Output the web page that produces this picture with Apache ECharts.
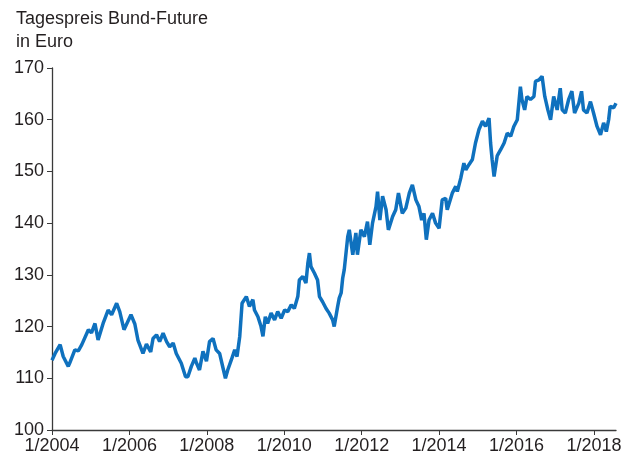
<!DOCTYPE html>
<html>
<head>
<meta charset="utf-8">
<script src="https://cdn.jsdelivr.net/npm/echarts@6/dist/echarts.min.js"></script>
<style>
  html, body { margin: 0; padding: 0; background: #fff; }
  #chart { width: 626px; height: 459px; }
</style>
</head>
<body>
<div id="chart"></div>
<script>
// Zeitpunkte als Dezimaljahr, Kurs in Euro
const years = [
  2004.00, 2004.08, 2004.21, 2004.29, 2004.42, 2004.46, 2004.59, 2004.68, 2004.77, 2004.94,
  2005.02, 2005.11, 2005.19, 2005.32, 2005.45, 2005.54, 2005.67, 2005.75, 2005.86, 2006.04,
  2006.14, 2006.22, 2006.35, 2006.44, 2006.55, 2006.61, 2006.70, 2006.78, 2006.87, 2006.96,
  2007.04, 2007.13, 2007.21, 2007.34, 2007.45, 2007.51, 2007.60, 2007.69, 2007.73, 2007.81,
  2007.90, 2007.99, 2008.07, 2008.16, 2008.24, 2008.33, 2008.43, 2008.48, 2008.54, 2008.63,
  2008.72, 2008.78, 2008.85, 2008.91, 2009.02, 2009.10, 2009.19, 2009.23, 2009.32, 2009.40,
  2009.45, 2009.51, 2009.57, 2009.66, 2009.75, 2009.83, 2009.92, 2010.01, 2010.09, 2010.18,
  2010.26, 2010.35, 2010.39, 2010.48, 2010.56, 2010.61, 2010.65, 2010.69, 2010.78, 2010.86,
  2010.91, 2010.99, 2011.08, 2011.16, 2011.25, 2011.29, 2011.38, 2011.42, 2011.47, 2011.51,
  2011.55, 2011.64, 2011.68, 2011.77, 2011.85, 2011.89, 2011.98, 2012.07, 2012.15, 2012.21,
  2012.28, 2012.37, 2012.41, 2012.47, 2012.54, 2012.63, 2012.69, 2012.80, 2012.88, 2012.95,
  2013.05, 2013.14, 2013.23, 2013.31, 2013.40, 2013.48, 2013.55, 2013.61, 2013.67, 2013.74,
  2013.83, 2013.91, 2014.00, 2014.08, 2014.17, 2014.21, 2014.34,
  2014.43, 2014.47, 2014.56, 2014.64, 2014.69, 2014.77, 2014.86, 2014.94, 2015.03, 2015.12,
  2015.20, 2015.29, 2015.33, 2015.37, 2015.42, 2015.50, 2015.59, 2015.68, 2015.76, 2015.85,
  2015.93, 2016.02, 2016.10, 2016.14, 2016.21, 2016.27, 2016.36, 2016.45, 2016.49,
  2016.58, 2016.66, 2016.73, 2016.81, 2016.88, 2016.96, 2017.05, 2017.13, 2017.18, 2017.26,
  2017.35, 2017.43, 2017.50, 2017.61, 2017.68, 2017.73, 2017.82, 2017.91, 2017.99, 2018.08,
  2018.17, 2018.25, 2018.32, 2018.38, 2018.42, 2018.51, 2018.57
];
const prices = [
  113.5, 114.8, 116.5, 114.2, 112.3, 113.0, 115.5, 115.3, 116.5, 119.4,
  118.8, 120.6, 117.4, 120.6, 123.2, 122.3, 124.5, 122.9, 119.4, 122.3,
  120.5, 117.4, 114.8, 116.6, 115.1, 117.7, 118.4, 117.1, 118.7, 117.1,
  116.1, 116.8, 114.8, 112.9, 110.3, 110.3, 112.3, 113.9, 113.0, 111.6,
  115.2, 113.3, 117.1, 117.7, 115.5, 114.8, 111.6, 110.0, 111.6, 113.5,
  115.5, 114.2, 118.1, 124.5, 125.8, 123.9, 125.2, 123.2, 121.9, 120.0,
  118.1, 121.9, 120.6, 122.6, 121.3, 122.9, 121.6, 123.2, 122.9, 124.2,
  123.5, 125.8, 129.0, 129.7, 128.4, 132.3, 134.2, 131.6, 130.3, 129.0,
  125.8, 124.8, 123.5, 122.6, 121.3, 120.0, 123.9, 125.5, 126.5, 129.4,
  131.0, 137.4, 138.7, 133.9, 138.1, 133.9, 138.7, 137.4, 140.3, 135.8,
  140.0, 143.2, 146.1, 140.6, 145.2, 142.6, 138.7, 141.3, 142.6, 145.8,
  141.9, 142.9, 145.8, 147.4, 144.5, 143.2, 140.6, 141.9, 136.8, 140.6,
  141.9, 140.0, 139.0, 144.5, 144.8, 142.6, 145.8,
  147.1, 146.1, 148.7, 151.6, 150.3, 151.3, 152.3, 155.5, 158.1, 159.7,
  158.7, 160.3, 155.5, 152.3, 149.0, 153.0, 154.2, 155.5, 157.4, 156.8,
  158.7, 160.0, 166.4, 163.9, 161.9, 164.5, 163.9, 164.5, 167.4,
  167.7, 168.4, 164.5, 161.9, 160.0, 164.5, 161.9, 166.1, 161.9, 161.3,
  164.0, 165.5, 161.3, 163.2, 165.5, 161.9, 161.3, 163.5, 161.3, 158.7,
  157.1, 159.4, 157.7, 160.0, 162.6, 162.3, 163.2
];
const xTicks = [2004, 2006, 2008, 2010, 2012, 2014, 2016, 2018];

const chart = echarts.init(document.getElementById('chart'));
const font = '"Liberation Sans", Arial, sans-serif';

chart.setOption({
  animation: false,
  title: {
    text: 'Tagespreis Bund-Future\nin Euro',
    left: 11,
    top: 3,
    textStyle: { fontFamily: font, fontSize: 18, fontWeight: 'normal', color: '#231f20', lineHeight: 23 },
  },
  grid: { left: 52, right: 10, top: 68, bottom: 29 },
  xAxis: {
    type: 'value',
    min: 2004,
    max: 2018.57,
    splitLine: { show: false },
    axisLine: { lineStyle: { color: '#3a3a3a', width: 1.3 } },
    axisTick: { customValues: xTicks, length: 5, lineStyle: { color: '#3a3a3a' } },
    axisLabel: {
      customValues: xTicks,
      formatter: (v) => '1/' + v,
      fontFamily: font, fontSize: 18, color: '#231f20', margin: 7,
    },
  },
  yAxis: {
    type: 'value',
    min: 100,
    max: 170,
    interval: 10,
    splitLine: { show: false },
    axisLine: { show: true, lineStyle: { color: '#3a3a3a', width: 1.3 } },
    axisTick: { show: true, length: 5, lineStyle: { color: '#3a3a3a' } },
    axisLabel: { fontFamily: font, fontSize: 18, color: '#231f20', margin: 8 },
  },
  series: [{
    type: 'line',
    data: years.map((y, i) => [y, prices[i]]),
    showSymbol: false,
    lineStyle: { color: '#0f71be', width: 3.5 },
    itemStyle: { color: '#0f71be' },
  }],
});
</script>
</body>
</html>
